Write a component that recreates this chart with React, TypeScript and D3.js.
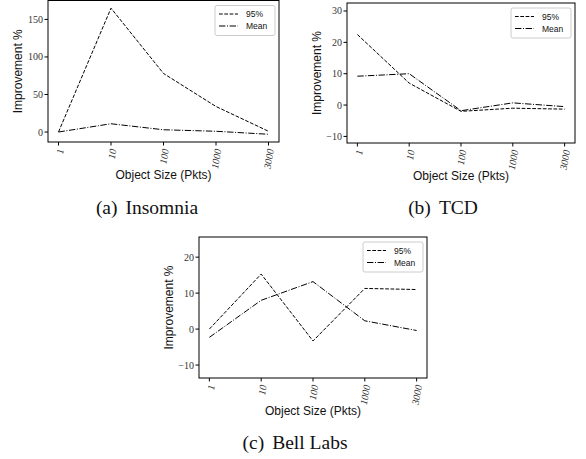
import * as d3 from "d3";

const sizes = ["1", "10", "100", "1000", "3000"];

const insomnia95 = [0, 165, 78, 34, 1];
const insomniaMean = [0, 11, 3, 1, -3];
const insomniaTicks = [0, 50, 100, 150];

const tcd95 = [22.5, 7, -2, -1, -1.3];
const tcdMean = [9.2, 10, -1.8, 0.7, -0.5];
const tcdTicks = [-10, 0, 10, 20, 30];

const bell95 = [0, 15.3, -3.3, 11.3, 11];
const bellMean = [-2.3, 8, 13.2, 2.3, -0.4];
const bellTicks = [-10, 0, 10, 20];

const seriesNames = ["95%", "Mean"];
const dashes = ["3.7,1.6", "6.4,1.6,1,1.6"];

const serif = "'Liberation Serif', 'DejaVu Serif', serif";
const sans = "'Liberation Sans', 'DejaVu Sans', sans-serif";

function Panel({
  left,
  top,
  right,
  bottom,
  yDomain,
  ticks,
  series,
  tag,
  caption,
  captionX,
  captionY,
}: {
  left: number;
  top: number;
  right: number;
  bottom: number;
  yDomain: [number, number];
  ticks: number[];
  series: number[][];
  tag: string;
  caption: string;
  captionX: number;
  captionY: number;
}) {
  const x = d3.scalePoint<string>().domain(sizes).range([left, right]).padding(0.2);
  const y = d3.scaleLinear().domain(yDomain).range([bottom, top]);
  const line = d3
    .line<number>()
    .x((_, i) => x(sizes[i])!)
    .y((d) => y(d));

  const cx = (left + right) / 2;
  const lgW = 60;
  const lgX = right - 4 - lgW;
  const lgY = top + 5;

  return (
    <g>
      {series.map((s, i) => (
        <path
          key={i}
          d={line(s)!}
          fill="none"
          stroke="#000"
          strokeWidth={1}
          strokeDasharray={dashes[i]}
        />
      ))}
      <rect
        x={left}
        y={top}
        width={right - left}
        height={bottom - top}
        fill="none"
        stroke="#000"
        strokeWidth={1}
      />

      {/* y axis */}
      {ticks.map((t) => (
        <g key={t}>
          <line x1={left - 3.5} x2={left} y1={y(t)} y2={y(t)} stroke="#000" />
          <text
            x={left - 5}
            y={y(t)}
            textAnchor="end"
            dominantBaseline="central"
            fontFamily={serif}
            fontSize={10}
            fill="#333"
          >
            {t < 0 ? `\u2212${-t}` : t}
          </text>
        </g>
      ))}

      {/* x axis */}
      {sizes.map((s) => (
        <g key={s}>
          <line x1={x(s)} x2={x(s)} y1={bottom} y2={bottom + 3.5} stroke="#000" />
          <text
            transform={`translate(${x(s)! + 2},${bottom + 7}) rotate(-80)`}
            textAnchor="end"
            dominantBaseline="central"
            fontFamily={serif}
            fontStyle="italic"
            fontSize={10}
            fill="#333"
          >
            {s}
          </text>
        </g>
      ))}

      <text
        x={cx}
        y={bottom + 37}
        textAnchor="middle"
        fontFamily={sans}
        fontSize={12}
        fill="#111"
      >
        Object Size (Pkts)
      </text>
      <text
        transform={`translate(${left - 26},${(top + bottom) / 2}) rotate(-90)`}
        textAnchor="middle"
        fontFamily={sans}
        fontSize={12}
        fill="#111"
      >
        Improvement %
      </text>

      {/* legend */}
      <rect
        x={lgX}
        y={lgY}
        width={lgW}
        height={30}
        rx={2}
        fill="#fff"
        fillOpacity={0.8}
        stroke="#ccc"
        strokeWidth={1}
      />
      {seriesNames.map((n, i) => (
        <g key={n}>
          <line
            x1={lgX + 4}
            x2={lgX + 23}
            y1={lgY + 8.5 + i * 12}
            y2={lgY + 8.5 + i * 12}
            stroke="#000"
            strokeDasharray={dashes[i]}
          />
          <text
            x={lgX + 31}
            y={lgY + 8.5 + i * 12}
            dominantBaseline="central"
            fontFamily={sans}
            fontSize={8.5}
            fill="#111"
          >
            {n}
          </text>
        </g>
      ))}

      <text
        x={captionX}
        y={captionY}
        textAnchor="middle"
        fontFamily={serif}
        fontSize={19.5}
        fill="#111"
      >
        <tspan>{tag}</tspan>
        <tspan dx={8}>{caption}</tspan>
      </text>
    </g>
  );
}

export default function App() {
  return (
    <svg
      width={586}
      height={459}
      style={{ position: "absolute", left: 0, top: 0, background: "#fff" }}
    >
      <rect width={586} height={459} fill="#fff" />
      <Panel
        left={48}
        top={0.5}
        right={279}
        bottom={142}
        yDomain={[-13.3, 175.2]}
        ticks={insomniaTicks}
        series={[insomnia95, insomniaMean]}
        tag="(a)"
        caption="Insomnia"
        captionX={147}
        captionY={214}
      />
      <Panel
        left={347}
        top={3}
        right={575}
        bottom={143}
        yDomain={[-12.1, 32.55]}
        ticks={tcdTicks}
        series={[tcd95, tcdMean]}
        tag="(b)"
        caption="TCD"
        captionX={443}
        captionY={214}
      />
      <Panel
        left={199}
        top={237}
        right={427}
        bottom={378}
        yDomain={[-13.6, 25.6]}
        ticks={bellTicks}
        series={[bell95, bellMean]}
        tag="(c)"
        caption="Bell Labs"
        captionX={295}
        captionY={449}
      />
    </svg>
  );
}
